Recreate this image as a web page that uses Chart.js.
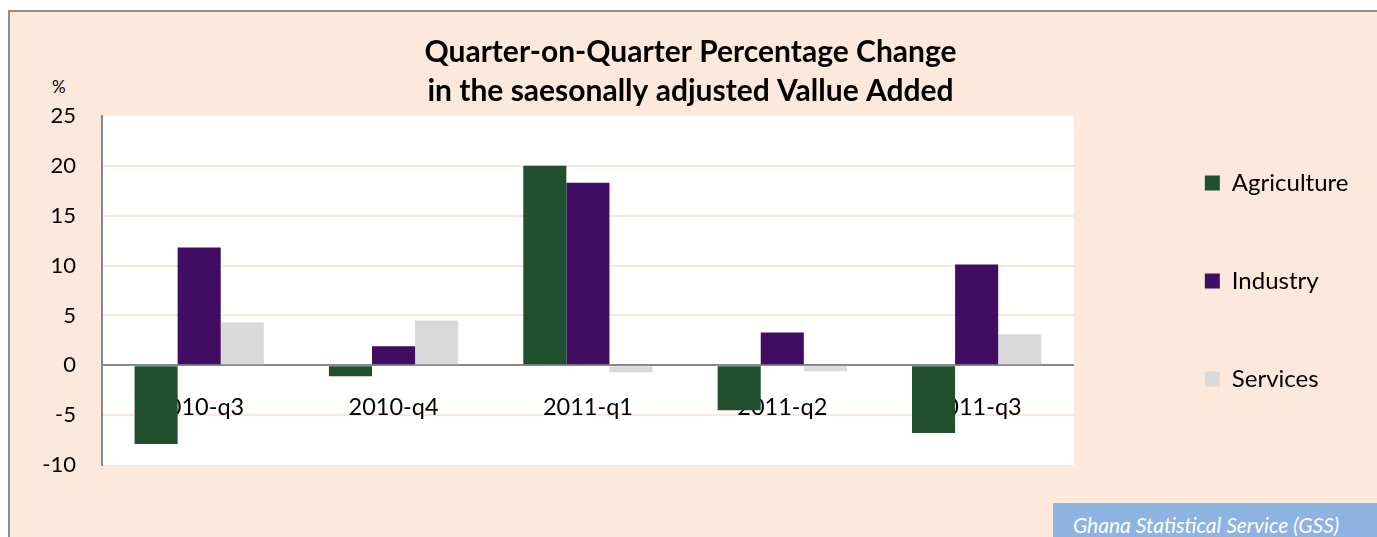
<!DOCTYPE html>
<html>
<head>
<meta charset="utf-8">
<script src="https://cdn.jsdelivr.net/npm/chart.js@4"></script>
<style>
  html, body { margin: 0; padding: 0; background: #fff; overflow: hidden; }
  #frame {
    position: absolute; left: 8px; top: 10px; width: 2000px; height: 1000px;
    background: #fce9db; border-top: 2px solid #8c8c8c; border-left: 2px solid #8c8c8c;
  }
  #pct { position: absolute; left: 52px; top: 76px; font: 17px Lato, sans-serif; color: #000; }
  #source {
    position: absolute; left: 1053px; top: 503px; width: 340px; height: 40px;
    background: #8db3e2; color: #fff; font: italic 21px Lato, sans-serif;
    box-sizing: border-box; padding: 9px 0 0 20px;
  }
  #wrap { position: absolute; left: 0; top: 0; width: 1377px; height: 537px; }
</style>
</head>
<body>
<div id="frame"></div>
<div id="pct">%</div>
<div id="source">Ghana Statistical Service (GSS)</div>
<div id="wrap"><canvas id="chart"></canvas></div>
<script>
const quarters = ["2010-q3", "2010-q4", "2011-q1", "2011-q2", "2011-q3"];
const agriculture = [-7.9, -1.1, 20.0, -4.5, -6.8];
const industry = [11.8, 1.9, 18.3, 3.3, 10.1];
const services = [4.3, 4.5, -0.7, -0.6, 3.1];
const yTicks = [25, 20, 15, 10, 5, 0, -5, -10];

const font = "Lato";

// white plot area on the peach background
const plotBg = {
  id: "plotBg",
  beforeDraw(chart) {
    const { ctx, chartArea: a } = chart;
    ctx.save();
    ctx.fillStyle = "#ffffff";
    ctx.fillRect(a.left, a.top, a.right - a.left, a.bottom - a.top);
    ctx.restore();
  },
};

new Chart(document.getElementById("chart"), {
  type: "bar",
  data: {
    labels: quarters,
    datasets: [
      { label: "Agriculture", data: agriculture, backgroundColor: "#21502e" },
      { label: "Industry", data: industry, backgroundColor: "#400d62" },
      { label: "Services", data: services, backgroundColor: "#d9d9d9" },
    ],
  },
  options: {
    responsive: true,
    maintainAspectRatio: false,
    animation: false,
    datasets: { bar: { barPercentage: 1, categoryPercentage: 0.665 } },
    layout: { padding: { top: 0, bottom: 72, left: 30, right: 26 } },
    plugins: {
      tooltip: { enabled: false },
      title: {
        display: true,
        text: ["Quarter-on-Quarter Percentage Change", "in the saesonally adjusted Vallue Added"],
        color: "#000",
        font: { family: font, size: 30, weight: "bold", lineHeight: 1.3 },
        padding: { top: 33, bottom: 5 },
      },
      legend: {
        position: "right",
        align: "end",
        labels: {
          color: "#000",
          font: { family: font, size: 24 },
          boxWidth: 15,
          boxHeight: 15,
          padding: 74,
        },
      },
    },
    scales: {
      x: {
        position: { y: 0 },
        z: 1, // labels sit on top of the bars
        grid: { display: false, drawTicks: false },
        border: { color: "#888888", width: 2 },
        ticks: { color: "#000", font: { family: font, size: 23.5 }, padding: 28, maxRotation: 0 },
      },
      y: {
        min: -10,
        max: 25,
        afterFit: (s) => { s.width = 72; },
        afterBuildTicks: (s) => { s.ticks = yTicks.map((v) => ({ value: v })); },
        grid: {
          drawTicks: false,
          lineWidth: 2,
          color: (c) => (c.tick && (c.tick.value === 25 || c.tick.value === -10) ? "rgba(0,0,0,0)" : "#fde6d6"),
        },
        border: { color: "#888888", width: 2 },
        ticks: { color: "#000", font: { family: font, size: 22 }, padding: 26 },
      },
      gap: {
        position: "right",
        afterFit: (s) => { s.width = 57; },
        grid: { display: false },
        border: { display: false },
        ticks: { display: false },
      },
    },
  },
  plugins: [plotBg],
});
</script>
</body>
</html>
